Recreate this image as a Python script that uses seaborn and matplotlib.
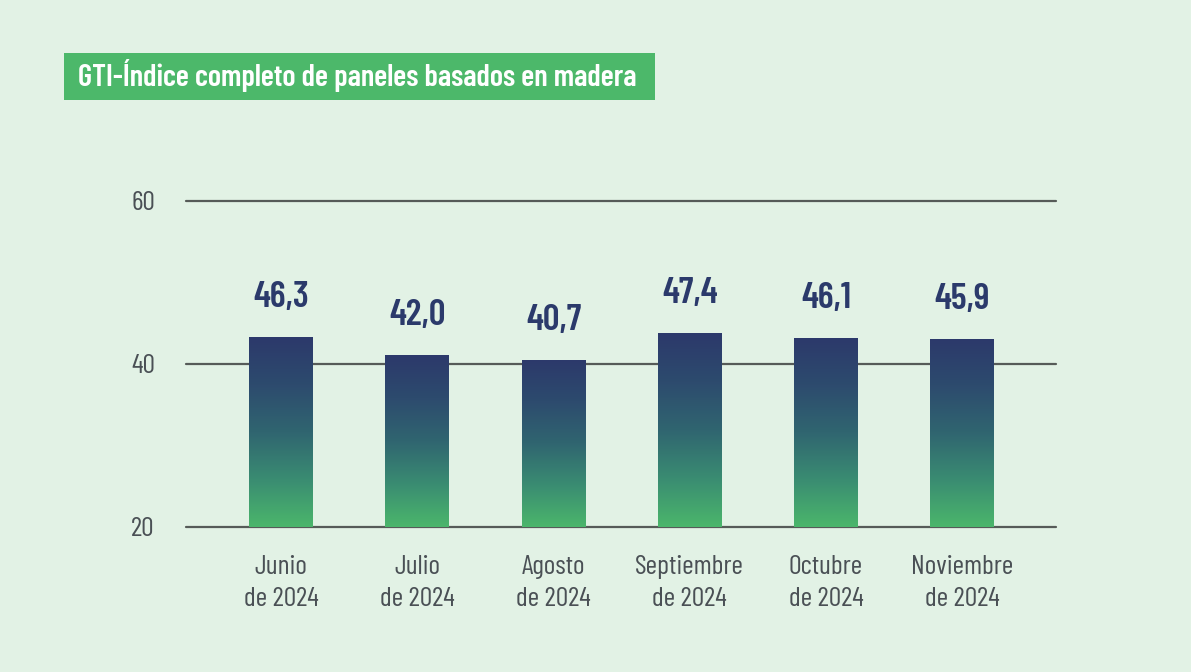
import numpy as np
import pandas as pd
import matplotlib
matplotlib.use("Agg")
import matplotlib.pyplot as plt
import seaborn as sns
from matplotlib.colors import LinearSegmentedColormap
from matplotlib.patches import Rectangle

# ---- data ----
months = ["Junio", "Julio", "Agosto", "Septiembre", "Octubre", "Noviembre"]
years = ["2024", "2024", "2024", "2024", "2024", "2024"]
label_values = [46.3, 42.0, 40.7, 47.4, 46.1, 45.9]      # printed values
bar_heights = [43.3, 41.1, 40.5, 43.8, 43.2, 43.1]       # bar tops as drawn on the axis
y_ticks = [20, 40, 60]
title = "GTI-Índice completo de paneles basados en madera"

sns.set_theme(style="white")
FONT = ["Barlow Condensed", "DejaVu Sans"]
plt.rcParams["font.family"] = FONT

BG = "#E2F2E5"
NAVY = "#2B3A6B"
GREEN = "#4CB86A"
GRAY_TXT = "#4A5055"
GRID = "#565B58"

fig = plt.figure(figsize=(11.91, 6.72), dpi=100)
fig.patch.set_facecolor(BG)

W, H = 1191, 672
ax = fig.add_axes([186 / W, 1 - 527 / H, (1056 - 186) / W, (527 - 201) / H])
ax.set_facecolor("none")

df = pd.DataFrame({
    "cat": [f"{m}\nde {y}" for m, y in zip(months, years)],
    "val": bar_heights,
})
sns.barplot(data=df, x="cat", y="val", ax=ax, width=0.47, color=NAVY,
            saturation=1, zorder=3)

ax.set_ylim(y_ticks[0], y_ticks[-1])
ax.set_xlim(-0.70, 5.69)
ax.set_yticks(y_ticks)
ax.set_xlabel("")
ax.set_ylabel("")
for s in ax.spines.values():
    s.set_visible(False)

ax.yaxis.grid(True, color=GRID, linewidth=1.6)
ax.xaxis.grid(False)
for gl in ax.get_ygridlines():
    gl.set_clip_on(False)
ax.set_axisbelow(True)

ax.tick_params(axis="y", length=0, pad=31, labelsize=20, labelcolor=GRAY_TXT)
ax.tick_params(axis="x", length=0, pad=20, labelsize=20, labelcolor=GRAY_TXT)
for t in ax.get_yticklabels():
    t.set_ha("center")
for t in ax.get_xticklabels():
    t.set_linespacing(1.42)
    t.set_ha("center")

# gradient fill for each bar
cmap = LinearSegmentedColormap.from_list(
    "bar", [(0.0, "#4BB66B"), (0.25, "#3A8C72"), (0.5, "#306570"),
            (0.75, "#2D4B6E"), (1.0, "#2C396B")])
grad = np.linspace(0, 1, 256).reshape(-1, 1)
for p in ax.patches:
    x0 = p.get_x()
    x1 = x0 + p.get_width()
    top = p.get_y() + p.get_height()
    im = ax.imshow(grad, cmap=cmap, origin="lower", aspect="auto",
                   extent=[x0, x1, y_ticks[0], top], zorder=4,
                   interpolation="bicubic")
    im.set_clip_path(p)
    p.set_facecolor("none")
    p.set_edgecolor("none")

ax.set_xlim(-0.70, 5.69)
ax.set_ylim(y_ticks[0], y_ticks[-1])

# value labels
for i, (h, v) in enumerate(zip(bar_heights, label_values)):
    ax.annotate(f"{v:.1f}".replace(".", ","), (i, h), xytext=(0, 21.5),
                textcoords="offset points", ha="center", va="baseline",
                fontsize=26.5, fontweight=600, color=NAVY, family=FONT,
                annotation_clip=False, zorder=5)

# title box
fig.patches.append(Rectangle((64 / W, 1 - 100 / H), (655 - 64) / W, 47 / H,
                             transform=fig.transFigure, facecolor=GREEN,
                             edgecolor="none", zorder=1))
fig.text(78 / W, 1 - 86 / H, title, ha="left", va="baseline",
         fontsize=22, fontweight=600, color="white", family=FONT, zorder=2)

fig.savefig("out.png", dpi=100, facecolor=BG)
